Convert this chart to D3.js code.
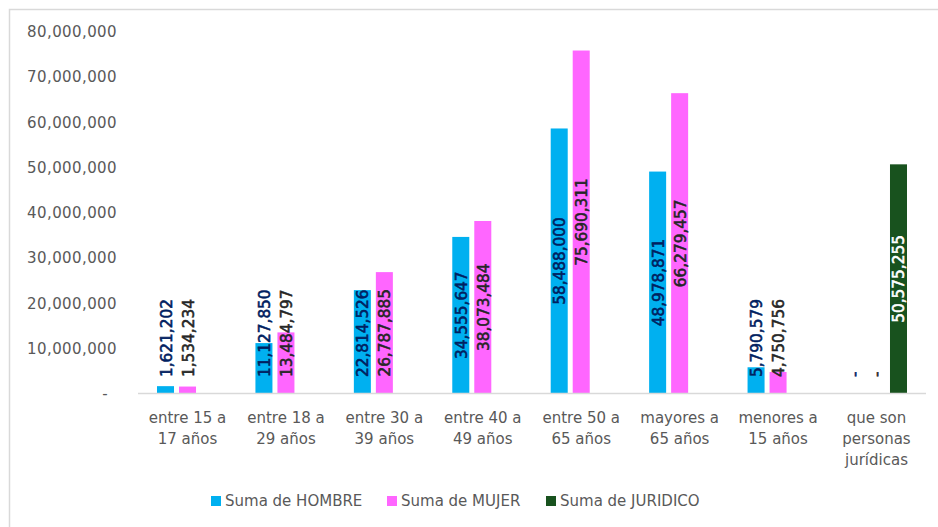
<!DOCTYPE html>
<html><head><meta charset="utf-8">
<script src="https://cdn.jsdelivr.net/npm/d3@7"></script>
<style>
html,body{margin:0;padding:0;background:#fff;}
svg{display:block;}
text{font-family:"DejaVu Sans",sans-serif;}
</style></head>
<body><svg id="c" width="938" height="527"></svg>
<script>
const categories = ["entre 15 a 17 años","entre 18 a 29 años","entre 30 a 39 años","entre 40 a 49 años","entre 50 a 65 años","mayores a 65 años","menores a 15 años","que son personas jurídicas"];
const seriesNames = ["Suma de HOMBRE","Suma de MUJER","Suma de JURIDICO"];
const hombre = [1621202,11127850,22814526,34555647,58488000,48978871,5790579,0];
const mujer = [1534234,13484797,26787885,38073484,75690311,66279457,4750756,0];
const juridico = [null,null,null,null,null,null,null,50575255];
const yTicks = [0,10000000,20000000,30000000,40000000,50000000,60000000,70000000,80000000];
const barColors = ["#00B0F0","#FF66FF","#18521E"];
const labelColors = ["#002060","#262626","#FFFFFF"];

const seriesValues = [hombre, mujer, juridico];
const svg = d3.select("#c");

svg.append("rect").attr("x",9.5).attr("y",9.5).attr("width",940).attr("height",540)
  .attr("fill","#fff").attr("stroke","#d9d9d9").attr("stroke-width",1.5);

const x0 = d3.scaleBand().domain(categories).range([138.3,925.7]).padding(0);
const x1 = d3.scaleBand().domain(seriesNames).range([0,x0.bandwidth()]).paddingInner(0.227).paddingOuter(0.85);
const y = d3.scaleLinear().domain([0,80000000]).range([393.5,31]);

// y axis labels
const fmt = d3.format(",");
const yAxis = d3.axisLeft(y).tickValues(yTicks).tickSize(0).tickPadding(0)
  .tickFormat(d => d===0 ? "-" : fmt(d));
const gy = svg.append("g").attr("transform","translate(117,0)").call(yAxis);
gy.select(".domain").remove();
gy.selectAll("text").attr("fill","#595959").style("font-size","15px")
  .style("font-family","'DejaVu Sans',sans-serif").style("letter-spacing","0.4px")
  .attr("dy","0.36em")
  .attr("x", d => d===0 ? -9 : 0);

// bars
const groups = svg.append("g").selectAll("g").data(seriesNames).join("g");
groups.each(function(s, si){
  const g = d3.select(this);
  const data = categories.map((c,i)=>({c, v: seriesValues[si][i]})).filter(d=>d.v!==null);
  g.selectAll("rect").data(data).join("rect")
    .attr("x", d => x0(d.c) + x1(s))
    .attr("width", x1.bandwidth())
    .attr("y", d => y(d.v))
    .attr("height", d => y(0) - y(d.v))
    .attr("fill", barColors[si]);
});

// x axis line
svg.append("line").attr("x1",138).attr("x2",926).attr("y1",393.5).attr("y2",393.5)
  .attr("stroke","#d9d9d9").attr("stroke-width",1.5);

// data labels
const labelLayer = svg.append("g");
seriesNames.forEach((s, si) => {
  categories.forEach((c, i) => {
    const v = seriesValues[si][i];
    if (v === null) return;
    const cx = x0(c) + x1(s) + x1.bandwidth()/2;
    const t = labelLayer.append("text")
      .text(v === 0 ? "-" : fmt(v))
      .attr("fill", labelColors[si])
      .attr("stroke", labelColors[si])
      .attr("stroke-width", 0.55)
      .style("font-size","15.3px")
      .attr("text-anchor","middle")
      .attr("dominant-baseline","central");
    const len = t.node().getComputedTextLength();
    const barMid = (y(0) + y(v)) / 2;
    const cy = Math.min(barMid, 377 - len/2);
    t.attr("transform", `translate(${cx+1},${cy}) rotate(-90)`);
  });
});

// category labels with wrapping
const catG = svg.append("g");
categories.forEach(c => {
  const cx = x0(c) + x0.bandwidth()/2;
  const t = catG.append("text").attr("text-anchor","middle").attr("fill","#595959")
    .style("font-size","15px");
  const words = c.split(" ");
  let lines = [], cur = [];
  const probe = svg.append("text").style("font-size","15px");
  words.forEach(w => {
    const trial = cur.concat([w]).join(" ");
    probe.text(trial);
    if (probe.node().getComputedTextLength() > 88 && cur.length) {
      lines.push(cur.join(" ")); cur = [w];
    } else cur.push(w);
  });
  lines.push(cur.join(" "));
  probe.remove();
  lines.forEach((ln, k) => {
    t.append("tspan").attr("x", cx).attr("y", 423 + k*21).text(ln);
  });
});

// legend
const legX = [211, 387, 546];
const leg = svg.append("g");
seriesNames.forEach((s, i) => {
  leg.append("rect").attr("x", legX[i]).attr("y", 496).attr("width",10).attr("height",10).attr("fill", barColors[i]);
  leg.append("text").attr("x", legX[i]+14).attr("y", 506).attr("fill","#595959")
    .style("font-size","15px").text(s);
});
</script></body></html>
